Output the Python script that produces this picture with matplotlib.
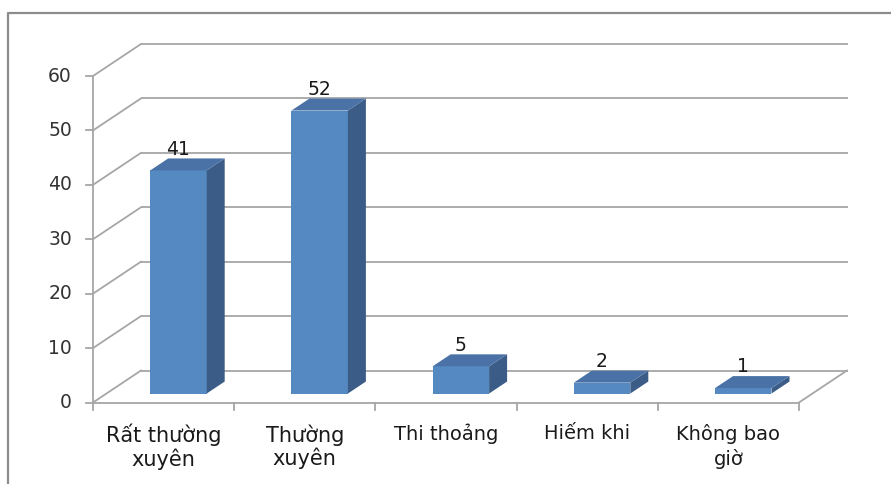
import matplotlib
matplotlib.use("Agg")
import matplotlib.pyplot as plt

# Survey answers and counts
categories = ["Rất thường\nxuyên", "Thường\nxuyên", "Thi thoảng", "Hiếm khi", "Không bao\ngiờ"]
counts = [41, 52, 5, 2, 1]
y_ticks = [0, 10, 20, 30, 40, 50, 60]

plt.rcParams["font.family"] = ["DejaVu Sans"]

W, H, DPI = 891, 484, 100
fig = plt.figure(figsize=(W / DPI, H / DPI), dpi=DPI)
ax = fig.add_axes([0, 0, 1, 1])
ax.set_axis_off()

# pixel layout of the plot box (front-left origin, category width, value scale)
x0_px, cat_px = 93.0, 141.2
y0_px, unit_px = 402.5, 326.5 / 60.0
ax.set_xlim(-x0_px / cat_px, (W - x0_px) / cat_px)
ax.set_ylim(-(H - y0_px) / unit_px, y0_px / unit_px)

# oblique depth offset of the 3-D box
DX = 48.0 / cat_px
DY = 32.0 / unit_px
n = len(categories)
ymax = y_ticks[-1]

grid_c = "#a6a6a6"
lw = 1.3

# back wall gridlines and left-wall diagonals
for v in y_ticks:
    ax.plot([DX, n + DX + 0.01], [v + DY, v + DY], color=grid_c, lw=lw, solid_capstyle="butt", zorder=1)
    ax.plot([0, DX], [v, v + DY], color=grid_c, lw=lw, zorder=1)
# floor right edge
ax.plot([n, n + DX], [0, DY], color=grid_c, lw=lw, zorder=1)
# front axes
ax.plot([0, 0], [0, ymax], color=grid_c, lw=lw, zorder=3)
ax.plot([0, n], [0, 0], color=grid_c, lw=lw, zorder=3)

# ticks
tick_dx = 7.0 / cat_px
tick_dy = 7.0 / unit_px
for v in y_ticks:
    ax.plot([-tick_dx, 0], [v, v], color=grid_c, lw=lw, zorder=3)
    ax.text(-21.0 / cat_px, v, str(v), ha="right", va="center",
            fontsize=13.5, color="#333333")
for i in range(n + 1):
    ax.plot([i, i], [0, -tick_dy], color=grid_c, lw=lw, zorder=3)

# bars: front face, right side, top
front_c, side_c, top_c = "#5589c2", "#3a5c86", "#4a72a6"
f_depth, b_depth = 0.28, 0.655
bar_left, bar_w = 0.31, 0.40
fx, fy = f_depth * DX, f_depth * DY
bx, by = b_depth * DX, b_depth * DY
for i, v in enumerate(counts):
    xl = i + bar_left + fx
    xr = xl + bar_w
    ax.bar(xl + bar_w / 2, v, width=bar_w, bottom=fy, color=front_c,
           edgecolor="none", zorder=5)
    # right side
    ax.fill([xr, xr + (bx - fx), xr + (bx - fx), xr],
            [fy, by, by + v, fy + v], color=side_c, lw=0, zorder=5)
    # top
    ax.fill([xl, xr, xr + (bx - fx), xl + (bx - fx)],
            [fy + v, fy + v, by + v, by + v], color=top_c, lw=0, zorder=5)
    ax.text(xl + bar_w / 2, v + by + 0.7, str(v), ha="center", va="baseline",
            fontsize=13.5, color="#1a1a1a", zorder=6)

# category labels
for i, lab in enumerate(categories):
    big = i < 2
    ax.text(i + 0.5, -(424.0 - y0_px) / unit_px, lab, ha="center", va="top",
            fontsize=15 if big else 14, color="#1a1a1a",
            linespacing=1.1 if big else 1.3)

# chart frame
ax.plot([8 / W, 8 / W, 1.0], [0.0, 1 - 13 / H, 1 - 13 / H], transform=ax.transAxes,
        color="#8c8c8c", lw=1.6, clip_on=False)

fig.savefig("out.png", dpi=DPI)
